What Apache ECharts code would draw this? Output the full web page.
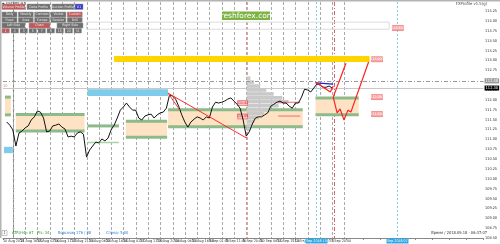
<!DOCTYPE html>
<html><head><meta charset="utf-8">
<script src="https://cdn.jsdelivr.net/npm/echarts@6/dist/echarts.min.js"></script>
<style>html,body{margin:0;padding:0;background:#fff}#c{width:500px;height:244px}</style>
</head><body><div id="c"></div>
<script>
// ===== DATA (time unit = trading day, day 0 = 13 Aug 2018; prices USDJPY) =====
const priceStart = -0.5;
const priceStep = 0.25;
const closes = [111.44,111.36,111.24,110.83,111.16,111.21,111.29,111.34,111.49,111.57,
111.72,111.69,111.54,111.19,111.21,111.34,111.36,111.39,111.31,111.26,
111.06,111.08,111.06,111.16,111.19,111.13,110.55,110.73,110.83,110.93,
110.91,111.01,110.96,111.03,111.24,111.36,111.54,111.74,111.82,111.92,
111.82,111.74,111.74,111.54,111.49,111.59,111.62,111.64,111.54,111.62,
111.67,111.69,111.79,112.12,112.10,112.02,111.84,111.62,111.44,111.31,
111.44,111.51,111.57,111.54,111.49,111.57,111.54,111.82,111.94,111.92,
111.94,111.97,112.02,112.05,111.97,111.89,111.79,111.49,111.08,111.19,
111.39,111.54,111.57,111.57,111.62,111.67,111.84,111.89,111.94,111.97,
111.92,111.92,111.84,111.79,111.92,111.92,112.07,112.27,112.25,112.20,
112.30,112.40,112.38,112.32,112.32,112.35,112.30];
const daySeparators = [0,1,2,3,4,5,6,7,8,9,10,11,12,13,14,15,16,17,18,19,20,21,22,23,24,25,26,27];
const timeLabels = ['10 Aug 2018','13 Aug 16:00','15 Aug 02:00','16 Aug 11:00','17 Aug 21:00','21 Aug 06:00','22 Aug 16:00','24 Aug 01:00','27 Aug 11:00','28 Aug 20:00','30 Aug 06:00','31 Aug 16:00','4 Sep 01:00','5 Sep 11:00','6 Sep 20:00','10 Sep 06:00','11 Sep 15:00','13 Sep 01:00','14 Sep 10:00','17 Sep 20:00'];
const axisSlots = 29;
// zones: [from, to, upper price, lower price]
const zones = [[-0.64,-0.16,112.07,111.62],[0.24,5.84,111.63,111.21],[9.2,12.56,111.46,111.05],[12.64,23.6,111.75,111.32],[24.64,28.16,112.05,111.62]];
const greenLevels = [[6.08,8.64,111.34]];
const thinGreenLevels = [[6.08,8.64,110.92]];
const blueBoxes = [[6.08,12.64,112.27,112.10],[-0.72,0,110.81,110.65]];
const yellowBoxes = [[8.24,29.04,113.11,112.96]];
const outlineBoxes = [[6.0,30.64,113.97,113.79]];
const profileStart = 19.04;
const profilePrices = [112.55,112.45,112.35,112.25,112.15,112.05,111.95,111.85,111.75,111.65,111.55,111.45,111.35,111.25];
const profileVolumes = [0.3,0.6,1.1,1.6,2.2,2.9,3.4,2.6,1.9,1.4,1.0,0.6,0.5,0.25];
const redTrend1 = [[12.64,112.17],[19.04,111.03]];
const redTrend2 = [[12.64,112.17],[13.6,111.74]];
const redProfileLines = [[[21.6,111.94],[23.4,111.94]],[[21.6,111.59],[23.4,111.59]]];
const blueSwing = [[24.64,112.43],[26.08,112.40]];
const redSwingA = [[24.64,112.45],[25.84,112.20],[26.08,112.35]];
const redSwingB = [[26.08,112.07],[26.4,111.67],[26.64,111.77],[26.96,111.49],[27.28,111.74],[27.52,111.69],[28.96,112.96]];
const redSwingC = [[26.08,112.07],[27.12,112.93]];
const levelTags = [[29.2,113.03,'113.000'],[29.2,112.07,'112.050'],[29.2,111.64,'111.620'],[30.9,113.82,'113.820']];
const profileTags = [[18.3,111.92,'111.92'],[18.3,111.58,'111.58']];
const priceLineDashed = 112.48;
const bidPrice = 112.30;
const redVLines = [19.04];
const redDashDotVLines = [26.16];
const blueVLines = [[24.64,'13 Sep 2018 15:00'],[31.28,'20 Sep 2018 07:00']];

// ===== CHART =====
const X_MIN = -0.8, X_MAX = 38.32;
const priceData = closes.map((v,i)=>[priceStart + i*priceStep, v]);
const axisCats = Array.from({length:axisSlots},(_,i)=> timeLabels[i] || '');
const FF = 'DejaVu Sans Condensed, DejaVu Sans, sans-serif';

function boxSeries(data, fill, stroke, lw, z){
  return {type:'custom', xAxisIndex:0, yAxisIndex:0, silent:true, z:z, data:data, encode:{x:[0,1],y:[2,3]},
    renderItem:(p,api)=>{
      const a=api.coord([api.value(0),api.value(2)]), b=api.coord([api.value(1),api.value(3)]);
      return {type:'rect', shape:{x:a[0],y:a[1],width:b[0]-a[0],height:b[1]-a[1]},
        style:{fill:fill, stroke:stroke, lineWidth:lw}};
    }};
}
function levelSeries(data, color, h, z){
  return {type:'custom', xAxisIndex:0, yAxisIndex:0, silent:true, z:z, data:data, encode:{x:[0,1],y:2},
    renderItem:(p,api)=>{
      const a=api.coord([api.value(0),api.value(2)]), b=api.coord([api.value(1),api.value(2)]);
      return {type:'rect', shape:{x:a[0],y:a[1]-h/2,width:b[0]-a[0],height:h}, style:{fill:color}};
    }};
}
function lineSeries(data, color, w, z, type){
  return {type:'line', xAxisIndex:0, yAxisIndex:0, data:data, showSymbol:false, silent:true, z:z,
    lineStyle:{color:color, width:w, type:type||'solid'}, animation:false};
}
function vlineSeries(data, color, dash, z, labelBg){
  return {type:'custom', xAxisIndex:0, yAxisIndex:0, silent:true, z:z, clip:false,
    data:data.map(d=>Array.isArray(d)?[d[0]]:[d]), encode:{x:0},
    renderItem:(p,api)=>{
      const cs=p.coordSys;
      const x=Math.round(api.coord([api.value(0),110])[0])+0.5;
      const ch=[{type:'line', shape:{x1:x,y1:cs.y,x2:x,y2:cs.y+cs.height}, style:{stroke:color, lineDash:dash, lineWidth:1}}];
      if(labelBg){
        const txt=data[p.dataIndex][1];
        ch.push({type:'rect', shape:{x:x-11,y:cs.y+cs.height+0.5,width:22,height:5}, style:{fill:labelBg}});
        ch.push({type:'text', style:{x:x,y:cs.y+cs.height+3,text:txt,fontSize:3.6,fill:'#fff',align:'center',verticalAlign:'middle',fontFamily:FF}});
      }
      return {type:'group', children:ch};
    }};
}

const series = [];
series.push(vlineSeries(daySeparators, '#aaaaaa', [3,2], 1));
series.push(vlineSeries(redVLines, '#f39a9a', [3,2], 2));
series.push(vlineSeries(redDashDotVLines, '#e06060', [4,2,1,2], 2));
series.push(vlineSeries(blueVLines, '#7fd0f0', [2,2], 2, '#2aa8e8'));
// horizontal price lines
series.push({type:'line', data:[], xAxisIndex:0, silent:true, z:2,
  markLine:{silent:true, symbol:'none', animation:false,
    data:[
      {yAxis:priceLineDashed, lineStyle:{color:'#999', type:[4,2,1,2], width:1},
       label:{show:true, position:'end', distance:1, formatter:priceLineDashed.toFixed(2), fontSize:4, color:'#fff', backgroundColor:'#9a9a9a', padding:[0.5,1], fontFamily:FF}},
      {yAxis:bidPrice, lineStyle:{color:'#c8c8c8', type:'solid', width:1},
       label:{show:true, position:'end', distance:1, formatter:bidPrice.toFixed(2), fontSize:4, color:'#fff', backgroundColor:'#000', padding:[0.5,1], fontFamily:FF}}
    ]}});
// boxes
series.push(boxSeries(outlineBoxes, 'rgba(0,0,0,0)', '#dcdcdc', 1, 2));
series.push(boxSeries(yellowBoxes, '#ffd500', null, 0, 3));
series.push(boxSeries(blueBoxes, '#7ecbea', null, 0, 3));
series.push({type:'custom', xAxisIndex:0, yAxisIndex:0, silent:true, z:3, data:zones, encode:{x:[0,1],y:[2,3]},
  renderItem:(p,api)=>{
    const a=api.coord([api.value(0),api.value(2)]), b=api.coord([api.value(1),api.value(3)]);
    const w=b[0]-a[0];
    return {type:'group', children:[
      {type:'rect', shape:{x:a[0],y:a[1],width:w,height:b[1]-a[1]}, style:{fill:'#fde3c3'}},
      {type:'rect', shape:{x:a[0],y:a[1]-1.5,width:w,height:3}, style:{fill:'#8dba8a'}},
      {type:'rect', shape:{x:a[0],y:b[1]-1.5,width:w,height:3}, style:{fill:'#8dba8a'}}
    ]};
  }});
series.push(levelSeries(greenLevels, '#8dba8a', 3, 3));
series.push(levelSeries(thinGreenLevels, '#a8d4a5', 1.5, 3));
// volume profile
series.push({type:'custom', xAxisIndex:0, yAxisIndex:0, silent:true, z:4,
  data: profilePrices.map((p,i)=>[p, profileVolumes[i]]), encode:{y:0},
  renderItem:(p,api)=>{
    const a=api.coord([profileStart, api.value(0)+0.045]), b=api.coord([profileStart+api.value(1), api.value(0)-0.045]);
    return {type:'rect', shape:{x:a[0],y:a[1],width:b[0]-a[0],height:b[1]-a[1]}, style:{fill:'#c9c9c9'}};
  }});
redProfileLines.forEach(l=>series.push(lineSeries(l,'#f06a6a',1,5)));
series.push({type:'custom', xAxisIndex:0, yAxisIndex:0, silent:true, z:6, data:profileTags, encode:{x:0,y:1},
  renderItem:(p,api)=>{
    const a=api.coord([api.value(0),api.value(1)]);
    return {type:'group', children:[
      {type:'rect', shape:{x:a[0],y:a[1]-2.5,width:10,height:5}, style:{fill:'#f8c4c4', stroke:'#e05555', lineWidth:0.6}},
      {type:'text', style:{x:a[0]+5,y:a[1],text:profileTags[p.dataIndex][2],fontSize:3.5,fill:'#c02020',align:'center',verticalAlign:'middle',fontFamily:FF}}
    ]};
  }});
// price
series.push(lineSeries(priceData, '#111', 1, 10));
series.push(lineSeries(redTrend1, '#ff2a2a', 1, 11));
series.push(lineSeries(redTrend2, '#ff2a2a', 1, 11));
series.push(lineSeries(blueSwing, '#1e22c8', 1.2, 12));
series.push(lineSeries(redSwingA, '#ff2020', 1.2, 12));
series.push(lineSeries(redSwingB, '#ff2020', 1.2, 12));
series.push(lineSeries(redSwingC, '#ff2020', 1.2, 12));
series.push({type:'custom', xAxisIndex:0, yAxisIndex:0, silent:true, z:13, data:levelTags, encode:{x:0,y:1},
  renderItem:(p,api)=>{
    const a=api.coord([api.value(0),api.value(1)]);
    return {type:'group', children:[
      {type:'rect', shape:{x:a[0],y:a[1]-2.5,width:11,height:5}, style:{fill:'#f7a8a8', stroke:'#f06060', lineWidth:0.6}},
      {type:'text', style:{x:a[0]+5.5,y:a[1],text:levelTags[p.dataIndex][2],fontSize:3.5,fill:'#fff',align:'center',verticalAlign:'middle',fontFamily:FF}}
    ]};
  }});

// UI panel graphics
const g = [];
g.push({type:'rect', shape:{x:0,y:0,width:500,height:1.5}, style:{fill:'#b4b4b4'}, z:100});
g.push({type:'rect', shape:{x:0,y:0,width:1.5,height:238}, style:{fill:'#b4b4b4'}, z:100});
g.push({type:'text', style:{x:2,y:3.5,text:'▪ USDJPY,H1',fontSize:4.2,fill:'#222',verticalAlign:'middle',fontFamily:FF}, z:100});
g.push({type:'text', style:{x:487,y:4,text:'FXProfile v1.5(g)',fontSize:4.2,fill:'#444',align:'right',verticalAlign:'middle',fontFamily:FF}, z:100});
function btn(x,y,w,h,txt,fill){
  g.push({type:'rect', shape:{x:x,y:y,width:w,height:h}, style:{fill:fill, stroke:'#9a9a9a', lineWidth:0.5}, z:100});
  g.push({type:'text', style:{x:x+w/2,y:y+h/2,text:txt,fontSize:3.4,fill:'#eee',align:'center',verticalAlign:'middle',fontFamily:FF}, z:101});
}
const dk='#6f6f6f', rd='#c25a5a';
btn(2,4,23,5.5,'Volume Profile',rd); btn(27,4,23,5.5,'Delta Profile',dk); btn(52,4,22,5.5,'Auction Profile',dk); btn(75,4,8,5.5,'V.1','#3a3ad0');
[['Daily',dk],['Weekly',dk],['Contract',dk],['Visible',dk],['Custom',rd]].forEach((b,i)=>btn(2+i*16.3,12,15,5,b[0],b[1]));
[['Fixed',dk],['Area',dk],['Europe',dk],['Session',dk],['Drill',dk]].forEach((b,i)=>btn(2+i*16.3,17.5,15,5,b[0],b[1]));
btn(2,23,23,5,'Left Side',dk); btn(29,23,21,5,'Chart',rd); btn(57,23,26,5,'Right Side',dk);
['1','2','3','5','7','9','15','20','31'].forEach((t,i)=>btn(2+i*9,28.5,7.5,4.5,t,i===0?rd:dk));
g.push({type:'rect', shape:{x:222,y:11.5,width:48,height:8.5}, style:{fill:'#7cb342'}, z:100});
g.push({type:'text', style:{x:246,y:16,text:'freshforex.com',fontSize:7.5,fill:'#fff',align:'center',verticalAlign:'middle',fontFamily:'DejaVu Sans'}, z:101});
g.push({type:'text', style:{x:3,y:86,text:'10',fontSize:4,fill:'#f08080',verticalAlign:'middle',fontFamily:FF}, z:100});
g.push({type:'rect', shape:{x:2,y:230.5,width:5,height:5}, style:{fill:'#fff', stroke:'#888', lineWidth:0.5}, z:100});
g.push({type:'text', style:{x:4.5,y:233,text:'1',fontSize:3.5,fill:'#333',align:'center',verticalAlign:'middle'}, z:101});
g.push({type:'text', style:{x:12,y:233,text:'ATR(H4): 67   Pts: 34',fontSize:4,fill:'#2e9a2e',verticalAlign:'middle',fontFamily:FF}, z:100});
g.push({type:'text', style:{x:58,y:233,text:'Bopcosw: 176 / 88',fontSize:4,fill:'#2a7fd4',verticalAlign:'middle',fontFamily:FF}, z:100});
g.push({type:'text', style:{x:106,y:233,text:'Спред: 5.00',fontSize:4,fill:'#2a7fd4',verticalAlign:'middle',fontFamily:FF}, z:100});
g.push({type:'text', style:{x:487,y:233,text:'Время / 2018.09.18 - 06:37:07',fontSize:4,fill:'#333',align:'right',verticalAlign:'middle',fontFamily:FF}, z:100});

const option = {
  animation:false,
  backgroundColor:'#fff',
  grid:{left:0,right:11,top:2,bottom:6,containLabel:false},
  xAxis:[
    {type:'value', min:X_MIN, max:X_MAX, show:false, splitLine:{show:false}},
    {type:'category', data:axisCats, boundaryGap:false, position:'bottom',
      axisLine:{show:true,lineStyle:{color:'#888',width:1}},
      axisTick:{show:true,length:2,interval:0,lineStyle:{color:'#888'}},
      axisLabel:{show:true,interval:0,fontSize:3.7,color:'#333',align:'left',margin:1.5,fontFamily:FF},
      splitLine:{show:false}}
  ],
  yAxis:{type:'value', position:'right', min:108.5, max:114.48, interval:0.25,
    axisLine:{show:true,lineStyle:{color:'#888'}}, axisTick:{show:true,length:1.5,lineStyle:{color:'#888'}},
    axisLabel:{fontSize:3.8,color:'#333',margin:1.5,showMaxLabel:false,fontFamily:FF,formatter:v=>v.toFixed(2)},
    splitLine:{show:false}},
  graphic:g,
  series:series
};
const chart = echarts.init(document.getElementById('c'));
chart.setOption(option);
</script></body></html>
